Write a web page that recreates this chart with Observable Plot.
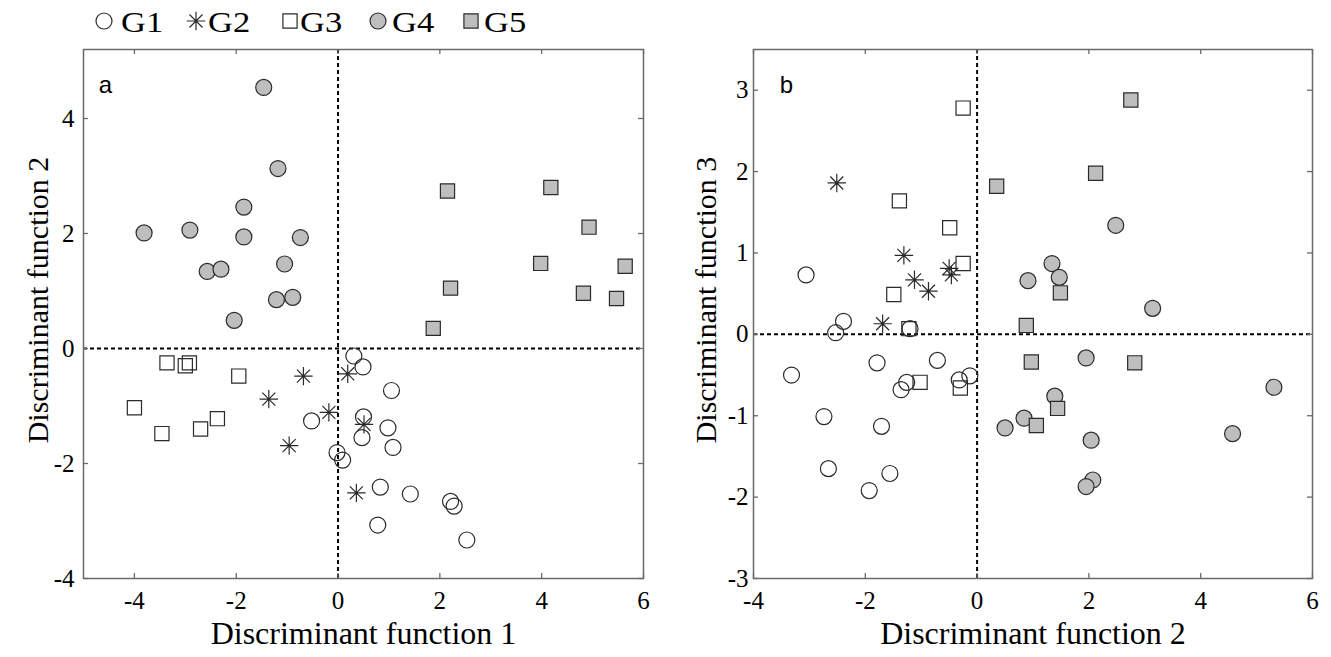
<!DOCTYPE html>
<html><head><meta charset="utf-8">
<script src="https://cdn.jsdelivr.net/npm/d3@7"></script>
<script src="https://cdn.jsdelivr.net/npm/@observablehq/plot@0.6"></script>
<style>
body{margin:0;background:#fff;}
#wrap{position:relative;width:1331px;height:657px;overflow:hidden;background:#fff;}
#pa{position:absolute;left:0;top:0;width:665px;height:657px;}
#pb{position:absolute;left:665px;top:0;width:666px;height:657px;}
#legend{position:absolute;left:0;top:0;}
</style></head><body>
<div id="wrap"><div id="pa"></div><div id="pb"></div><svg id="legend" width="600" height="46"></svg></div>
<script>
// ---- data ----
const groups = ["G1", "G2", "G3", "G4", "G5"];
// Panel a: Discriminant function 1 (x) vs Discriminant function 2 (y)
const aG1x = [0.31, 0.49, -0.52, 0.50, 0.47, -0.02, 0.09, 1.05, 0.98, 1.08, 0.83, 1.42, 2.21, 2.28, 0.78, 2.53];
const aG1y = [-0.13, -0.32, -1.26, -1.19, -1.55, -1.81, -1.94, -0.73, -1.38, -1.72, -2.41, -2.53, -2.66, -2.74, -3.07, -3.33];
const aG2x = [-0.68, -1.36, -0.18, -0.96, 0.19, 0.51, 0.36];
const aG2y = [-0.48, -0.88, -1.11, -1.69, -0.44, -1.32, -2.51];
const aG3x = [-3.36, -3.00, -2.92, -1.95, -4.00, -2.37, -2.70, -3.46];
const aG3y = [-0.25, -0.30, -0.25, -0.48, -1.03, -1.22, -1.40, -1.48];
const aG4x = [-1.46, -1.18, -1.85, -3.81, -2.91, -1.85, -0.74, -1.05, -2.57, -2.30, -1.21, -0.89, -2.04];
const aG4y = [4.54, 3.13, 2.46, 2.01, 2.06, 1.94, 1.93, 1.47, 1.34, 1.38, 0.85, 0.89, 0.49];
const aG5x = [2.15, 4.18, 4.93, 3.98, 5.64, 2.21, 4.82, 5.47, 1.87];
const aG5y = [2.74, 2.80, 2.11, 1.48, 1.43, 1.05, 0.96, 0.87, 0.35];
// Panel b: Discriminant function 2 (x) vs Discriminant function 3 (y)
const bG1x = [-3.06, -2.39, -2.53, -1.20, -1.79, -3.32, -0.71, -1.26, -1.36, -0.32, -0.13, -2.74, -1.71, -2.66, -1.56, -1.93];
const bG1y = [0.73, 0.16, 0.02, 0.07, -0.35, -0.50, -0.32, -0.59, -0.68, -0.56, -0.51, -1.01, -1.13, -1.65, -1.71, -1.92];
const bG2x = [-2.51, -1.31, -1.12, -0.87, -0.50, -0.46, -1.69];
const bG2y = [1.86, 0.97, 0.67, 0.53, 0.81, 0.73, 0.13];
const bG3x = [-0.25, -1.39, -0.49, -0.25, -1.49, -1.22, -1.02, -0.30];
const bG3y = [2.78, 1.64, 1.31, 0.87, 0.49, 0.07, -0.59, -0.66];
const bG4x = [2.48, 1.34, 1.47, 0.91, 3.14, 1.95, 5.31, 1.39, 0.84, 0.50, 2.04, 4.57, 2.07, 1.95];
const bG4y = [1.34, 0.87, 0.70, 0.66, 0.32, -0.29, -0.65, -0.76, -1.03, -1.15, -1.30, -1.22, -1.79, -1.87];
const bG5x = [0.35, 2.75, 2.12, 1.49, 0.88, 0.97, 2.82, 1.44, 1.06];
const bG5y = [1.82, 2.88, 1.98, 0.51, 0.11, -0.34, -0.35, -0.91, -1.12];

const aXTicks = [-4, -2, 0, 2, 4, 6];
const aYTicks = [-4, -2, 0, 2, 4];
const bXTicks = [-4, -2, 0, 2, 4, 6];
const bYTicks = [-3, -2, -1, 0, 1, 2, 3];
const aXDomain = [-5, 6], aYDomain = [-4, 5.2];
const bXDomain = [-4, 6], bYDomain = [-3, 3.5];

// ---- styles ----
const serif = "'Liberation Serif','Times New Roman',serif";
const sans = "'Liberation Sans',Arial,sans-serif";
const grayFill = "#bebebe";
const edge = "#2a2a2a";
const frameCol = "#6a6a6a";

const asterisk8 = {
  draw(ctx, size) {
    const r = Math.sqrt(size / Math.PI) * 1.15;
    const d = r * Math.SQRT1_2;
    ctx.moveTo(0, -r); ctx.lineTo(0, r);
    ctx.moveTo(-r, 0); ctx.lineTo(r, 0);
    ctx.moveTo(-d, -d); ctx.lineTo(d, d);
    ctx.moveTo(-d, d); ctx.lineTo(d, -d);
  }
};
const groupStyle = {
  G1: {symbol: "circle", fill: "none", stroke: edge},
  G2: {symbol: asterisk8, fill: "none", stroke: edge},
  G3: {symbol: "square", fill: "none", stroke: edge},
  G4: {symbol: "circle", fill: grayFill, stroke: edge},
  G5: {symbol: "square", fill: grayFill, stroke: edge}
};

function rows(xs, ys) { return xs.map((x, i) => ({x, y: ys[i]})); }

function panel(opts) {
  const {series, xTicks, yTicks, xDomain, yDomain, xLabel, yLabel, letter, width, marginLeft, marginRight, letterDx, yPad, yLabelDx} = opts;
  const height = 657, marginTop = 49, marginBottom = 79;
  const innerW = width - marginLeft - marginRight;
  const innerH = height - marginTop - marginBottom;
  const tk = 5;
  const dotMarks = groups.map((g, i) => Plot.dot(rows(series[i][0], series[i][1]), {
    x: "x", y: "y", r: 8, symbol: groupStyle[g].symbol,
    fill: groupStyle[g].fill, stroke: groupStyle[g].stroke, strokeWidth: 1.2
  }));
  return Plot.plot({
    width, height, marginLeft, marginRight, marginTop, marginBottom,
    style: {fontFamily: serif, fontSize: "25px", color: "#000", background: "transparent"},
    x: {domain: xDomain},
    y: {domain: yDomain},
    marks: [
      Plot.ruleX([0], {stroke: "#000", strokeWidth: 2, strokeDasharray: "4,3"}),
      Plot.ruleY([0], {stroke: "#000", strokeWidth: 2, strokeDasharray: "4,3"}),
      // inward ticks on all four sides
      Plot.ruleX(xTicks, {x: d => d, insetTop: innerH - tk, stroke: frameCol, strokeWidth: 1.3}),
      Plot.ruleX(xTicks, {x: d => d, insetBottom: innerH - tk, stroke: frameCol, strokeWidth: 1.3}),
      Plot.ruleY(yTicks, {y: d => d, insetRight: innerW - tk, stroke: frameCol, strokeWidth: 1.3}),
      Plot.ruleY(yTicks, {y: d => d, insetLeft: innerW - tk, stroke: frameCol, strokeWidth: 1.3}),
      Plot.frame({stroke: frameCol, strokeWidth: 1.5}),
      Plot.axisX({ticks: xTicks, anchor: "bottom", tickSize: 0, tickPadding: 13, tickFormat: d => String(d), label: null, fontSize: 25}),
      Plot.axisY({ticks: yTicks, anchor: "left", tickSize: 0, tickPadding: yPad, tickFormat: d => String(d), label: null, fontSize: 25}),
      ...dotMarks,
      Plot.text([xLabel], {text: d => d, frameAnchor: "bottom", dy: 55, textAnchor: "middle", lineAnchor: "middle", fontSize: 32, fontFamily: serif, fill: "#000"}),
      Plot.text([yLabel], {text: d => d, frameAnchor: "left", dx: yLabelDx, dy: -14, rotate: -90, textAnchor: "middle", lineAnchor: "middle", fontSize: 30, fontFamily: serif, fill: "#000"}),
      Plot.text([letter], {text: d => d, frameAnchor: "top-left", dx: letterDx, dy: 36, textAnchor: "middle", lineAnchor: "middle", fontSize: 24, fontFamily: sans, fill: "#000"})
    ]
  });
}

const pa = panel({
  series: [[aG1x, aG1y], [aG2x, aG2y], [aG3x, aG3y], [aG4x, aG4y], [aG5x, aG5y]],
  xTicks: aXTicks, yTicks: aYTicks, xDomain: aXDomain, yDomain: aYDomain,
  xLabel: "Discriminant function 1", yLabel: "Discriminant function 2", letter: "a",
  width: 665, marginLeft: 83, marginRight: 22, letterDx: 22, yPad: 9, yLabelDx: -45
});
const pb = panel({
  series: [[bG1x, bG1y], [bG2x, bG2y], [bG3x, bG3y], [bG4x, bG4y], [bG5x, bG5y]],
  xTicks: bXTicks, yTicks: bYTicks, xDomain: bXDomain, yDomain: bYDomain,
  xLabel: "Discriminant function 2", yLabel: "Discriminant function 3", letter: "b",
  width: 666, marginLeft: 88, marginRight: 19, letterDx: 33, yPad: 5, yLabelDx: -47
});
document.getElementById("pa").appendChild(pa);
document.getElementById("pb").appendChild(pb);

// ---- legend ----
const legendSym = [104, 196, 290, 378, 471];
const legendTxt = [121, 208, 300, 392, 484];
const lg = d3.select("#legend");
groups.forEach((g, i) => {
  const st = groupStyle[g];
  const type = st.symbol === "circle" ? d3.symbolCircle : st.symbol === "square" ? d3.symbolSquare : st.symbol;
  lg.append("path")
    .attr("d", d3.symbol(type, Math.PI * 8 * 8)())
    .attr("transform", `translate(${legendSym[i]},21)`)
    .attr("fill", st.fill).attr("stroke", st.stroke).attr("stroke-width", 1.2);
  const t = lg.append("text").attr("x", legendTxt[i]).attr("y", 32)
    .attr("font-family", serif).attr("font-size", 30).attr("fill", "#000").text(g);
  const len = t.node().getComputedTextLength();
  t.attr("textLength", (len * 1.15).toFixed(1)).attr("lengthAdjust", "spacingAndGlyphs");
});
</script>
</body></html>
